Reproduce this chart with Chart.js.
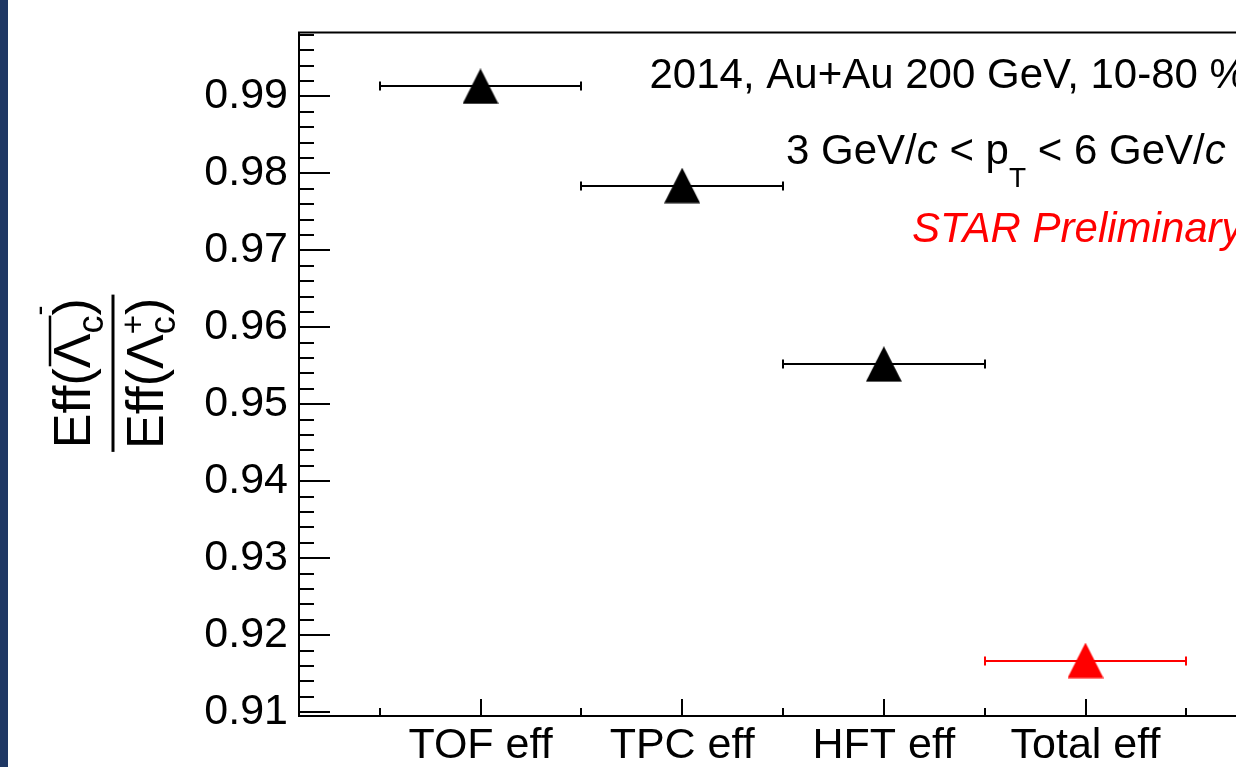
<!DOCTYPE html>
<html><head><meta charset="utf-8">
<script src="https://cdn.jsdelivr.net/npm/chart.js@4.4.1/dist/chart.umd.min.js"></script>
<style>
html,body{margin:0;padding:0;background:#fff;overflow:hidden;width:1236px;height:767px;}
#strip{position:absolute;left:0;top:0;width:8px;height:767px;background:#1f3864;z-index:2}
#wrap{position:absolute;left:0;top:0;width:1300px;height:767px;}
</style></head><body>
<div id="strip"></div>
<div id="wrap"><canvas id="c" width="1300" height="767"></canvas></div>
<script>
// ---- data ----
const categories = ['TOF eff', 'TPC eff', 'HFT eff', 'Total eff'];
const categoryPos = [1, 2, 3, 4];
const ratioValues = [0.9913, 0.9784, 0.9552, 0.9167];
const binHalfWidth = [0.5, 0.5, 0.5, 0.5];
const pointColors = ['#000000', '#000000', '#000000', '#ff0000'];
const yTickValues = [0.91, 0.92, 0.93, 0.94, 0.95, 0.96, 0.97, 0.98, 0.99];
const yTickLabels = ['0.91', '0.92', '0.93', '0.94', '0.95', '0.96', '0.97', '0.98', '0.99'];
const xEdgeTicks = [0.5, 1.5, 2.5, 3.5, 4.5];

const FONT = '"Liberation Sans", Arial, Helvetica, sans-serif';

function triangleImage(color) {
  const cv = document.createElement('canvas');
  cv.width = 36; cv.height = 36;
  const g = cv.getContext('2d');
  g.fillStyle = color;
  g.beginPath();
  g.moveTo(18, 0); g.lineTo(36, 35.5); g.lineTo(0, 35.5); g.closePath();
  g.fill();
  return cv;
}
const markerImages = pointColors.map(c => triangleImage(c));

const errorBars = {
  id: 'errorBars',
  beforeDatasetsDraw(chart) {
    const ctx = chart.ctx, xs = chart.scales.x, ys = chart.scales.y;
    ctx.save();
    ctx.lineWidth = 2;
    categoryPos.forEach((xv, i) => {
      const y = Math.round(ys.getPixelForValue(ratioValues[i]));
      const x1 = Math.round(xs.getPixelForValue(xv - binHalfWidth[i]));
      const x2 = Math.round(xs.getPixelForValue(xv + binHalfWidth[i]));
      ctx.strokeStyle = pointColors[i];
      ctx.beginPath();
      ctx.moveTo(x1, y); ctx.lineTo(x2, y);
      ctx.moveTo(x1, y - 4.5); ctx.lineTo(x1, y + 4.5);
      ctx.moveTo(x2, y - 4.5); ctx.lineTo(x2, y + 4.5);
      ctx.stroke();
    });
    ctx.restore();
  }
};

function drawTitle(ctx, barX, centerY) {
  const S = 52, SUB = 36;
  ctx.save();
  ctx.fillStyle = '#000';
  ctx.textBaseline = 'alphabetic';
  ctx.textAlign = 'left';
  function w(t, size, style) { ctx.font = (style || '') + ' ' + size + 'px ' + FONT; return ctx.measureText(t).width; }
  function numerator(draw, baseX, startY) {
    let pos = 0;
    if (draw) { ctx.save(); ctx.translate(baseX, startY); ctx.rotate(-Math.PI / 2); }
    const put = (t, size, dy, adv) => { const ww = w(t, size); if (draw) ctx.fillText(t, pos, dy); if (adv) pos += ww; return ww; };
    put('Eff(', S, 0, true);
    const lamStart = pos;
    put('\u039B', S, 0, true);
    put('c', SUB, 13, true);
    const lamEnd = pos;
    if (draw) {
      ctx.lineWidth = 2.5; ctx.strokeStyle = '#000';
      ctx.beginPath(); ctx.moveTo(lamStart + 2, -40); ctx.lineTo(lamEnd, -40); ctx.stroke();
    }
    put('-', 30, -41, false);
    put(')', S, 0, true);
    if (draw) ctx.restore();
    return pos;
  }
  function denominator(draw, baseX, startY) {
    let pos = 0;
    if (draw) { ctx.save(); ctx.translate(baseX, startY); ctx.rotate(-Math.PI / 2); }
    const put = (t, size, dy, adv) => { const ww = w(t, size); if (draw) ctx.fillText(t, pos, dy); if (adv) pos += ww; return ww; };
    put('Eff(', S, 0, true);
    put('\u039B', S, 0, true);
    const cw = put('c', SUB, 12, false);
    const pw = put('+', 33, -19, false);
    pos += Math.max(cw, pw);
    put(')', S, 0, true);
    if (draw) ctx.restore();
    return pos;
  }
  const nl = numerator(false), dl = denominator(false);
  numerator(true, barX - 23, centerY + nl / 2);
  denominator(true, barX + 50, centerY + dl / 2);
  ctx.lineWidth = 3; ctx.strokeStyle = '#000';
  const half = Math.max(nl, dl) / 2 + 3;
  ctx.beginPath(); ctx.moveTo(barX, centerY - half); ctx.lineTo(barX, centerY + half); ctx.stroke();
  ctx.restore();
}

const frameAndText = {
  id: 'frameAndText',
  afterDraw(chart) {
    const ctx = chart.ctx, a = chart.chartArea, xs = chart.scales.x, ys = chart.scales.y;
    ctx.save();
    ctx.strokeStyle = '#000';
    ctx.lineWidth = 2;
    ctx.strokeRect(a.left, a.top, a.right - a.left, a.bottom - a.top);
    ctx.beginPath();
    yTickValues.forEach(v => {
      const y = Math.round(ys.getPixelForValue(v));
      ctx.moveTo(a.left, y); ctx.lineTo(a.left + 31, y);
    });
    const step = (yTickValues[1] - yTickValues[0]) / 5;
    for (let k = -5; k <= 60; k++) {
      if (((k % 5) + 5) % 5 === 0) continue;
      const v = yTickValues[0] + k * step;
      if (v < ys.min || v > ys.max) continue;
      const y = Math.round(ys.getPixelForValue(v));
      ctx.moveTo(a.left, y); ctx.lineTo(a.left + 15, y);
    }
    categoryPos.forEach(v => {
      const x = Math.round(xs.getPixelForValue(v));
      ctx.moveTo(x, a.bottom); ctx.lineTo(x, a.bottom - 17);
    });
    xEdgeTicks.forEach(v => {
      const x = Math.round(xs.getPixelForValue(v));
      ctx.moveTo(x, a.bottom); ctx.lineTo(x, a.bottom - 8);
    });
    ctx.stroke();

    ctx.fillStyle = '#000';
    ctx.textBaseline = 'alphabetic';
    ctx.textAlign = 'left';
    ctx.font = '42px ' + FONT;
    ctx.fillText('2014, Au+Au 200 GeV, 10-80 %', 649.5, 87.5);

    let x = 786; const yb = 164;
    const run = (t, font, dy) => { ctx.font = font; ctx.fillText(t, x, yb + (dy || 0)); x += ctx.measureText(t).width; };
    run('3 GeV/', '42px ' + FONT);
    run('c', 'italic 42px ' + FONT);
    run(' < p', '42px ' + FONT);
    run('T', '28px ' + FONT, 22.5);
    run(' < 6 GeV/', '42px ' + FONT);
    run('c', 'italic 42px ' + FONT);

    ctx.fillStyle = '#ff0000';
    ctx.font = 'italic 42px ' + FONT;
    ctx.fillText('STAR Preliminary', 912, 241.5);

    drawTitle(ctx, 113, (a.top + a.bottom) / 2 - 1);
    ctx.restore();
  }
};

new Chart(document.getElementById('c'), {
  type: 'scatter',
  data: {
    datasets: [{
      data: categoryPos.map((x, i) => ({ x: x, y: ratioValues[i] })),
      pointStyle: markerImages,
      pointRadius: 18,
      pointHoverRadius: 18,
      showLine: false
    }]
  },
  options: {
    responsive: false,
    animation: false,
    devicePixelRatio: 1,
    layout: { padding: { left: 0, top: 32, right: 33, bottom: 0 } },
    plugins: { legend: { display: false }, tooltip: { enabled: false } },
    scales: {
      x: {
        type: 'linear', position: 'bottom', min: 0.1, max: 4.9,
        grid: { display: false, drawTicks: false },
        border: { display: false },
        afterBuildTicks: s => { s.ticks = categoryPos.map(v => ({ value: v })); },
        afterFit: s => { s.height = 51; },
        ticks: {
          autoSkip: false, maxRotation: 0, padding: 9, color: '#000',
          font: { family: FONT, size: 43, lineHeight: 1 },
          callback: (v, i) => categories[i]
        }
      },
      y: {
        type: 'linear', min: 0.9095, max: 0.9983,
        grid: { display: false, drawTicks: false },
        border: { display: false },
        afterBuildTicks: s => { s.ticks = yTickValues.map(v => ({ value: v })); },
        afterFit: s => { s.width = 299; },
        ticks: {
          autoSkip: false, padding: 11, color: '#000',
          font: { family: FONT, size: 43, lineHeight: 1 },
          callback: (v, i) => yTickLabels[i]
        }
      }
    }
  },
  plugins: [errorBars, frameAndText]
});
</script>
</body></html>
